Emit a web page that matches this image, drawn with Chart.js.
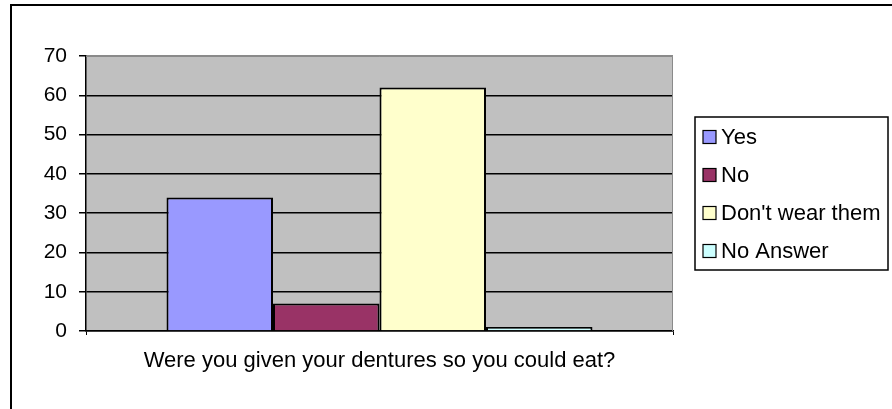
<!DOCTYPE html>
<html>
<head>
<meta charset="utf-8">
<script src="https://cdn.jsdelivr.net/npm/chart.js@4"></script>
<style>
  html, body { margin: 0; padding: 0; background: #fff; }
  #wrap { width: 892px; height: 409px; }
</style>
</head>
<body>
<div id="wrap"><canvas id="myChart" width="892" height="409"></canvas></div>
<script>
// data
var question = ['Were you given your dentures so you could eat?'];
var answers = ['Yes', 'No', "Don't wear them", 'No Answer'];
var counts = [34, 7, 62, 1];
var colours = ['#9999FF', '#993366', '#FFFFCC', '#CCFFFF'];
var yTicks = [0, 10, 20, 30, 40, 50, 60, 70];

var FONT = 'Liberation Sans, Arial, sans-serif';

// frame, grey plot area and the boxed legend
var excelLook = {
  id: 'excelLook',
  beforeDraw: function (chart) {
    var c = chart.ctx, a = chart.chartArea;
    c.save();
    c.fillStyle = '#C0C0C0';
    c.fillRect(a.left, a.top, a.right - a.left, a.bottom - a.top);
    c.strokeStyle = '#000';
    c.lineWidth = 2;
    c.beginPath();
    c.moveTo(11, 409); c.lineTo(11, 5); c.lineTo(892, 5);
    c.stroke();
    c.restore();
  },
  afterDraw: function (chart) {
    var c = chart.ctx, a = chart.chartArea;
    c.save();
    c.strokeStyle = '#8a8a8a';
    c.lineWidth = 1;
    c.beginPath();
    c.moveTo(a.left, a.top + 0.5); c.lineTo(a.right - 0.5, a.top + 0.5); c.lineTo(a.right - 0.5, a.bottom);
    c.stroke();
    // legend
    var lx = 695, ly = 117, lw = 193, lh = 153;
    c.strokeStyle = '#000';
    c.lineWidth = 1.5;
    c.strokeRect(lx, ly, lw, lh);
    c.font = '22px ' + FONT;
    c.textBaseline = 'middle';
    c.fillStyle = '#000';
    chart.data.datasets.forEach(function (ds, i) {
      var cy = 137 + i * 38;
      c.fillStyle = ds.backgroundColor;
      c.fillRect(703, cy - 6.5, 13, 13);
      c.strokeStyle = '#000';
      c.lineWidth = 1.2;
      c.strokeRect(703, cy - 6.5, 13, 13);
      c.fillStyle = '#000';
      c.fillText(ds.label, 721, cy + 1);
    });
    c.restore();
  }
};

var ctx = document.getElementById('myChart').getContext('2d');
var myChart = new Chart(ctx, {
  type: 'bar',
  data: {
    labels: question,
    datasets: answers.map(function (a, i) {
      return {
        label: a,
        data: [counts[i]],
        backgroundColor: colours[i],
        borderColor: '#000',
        borderWidth: 2,
        barPercentage: 1,
        categoryPercentage: 0.7257
      };
    })
  },
  options: {
    responsive: false,
    animation: false,
    layout: { padding: { left: 0, top: 56, right: 219, bottom: 0 } },
    plugins: { legend: { display: false }, tooltip: { enabled: false } },
    scales: {
      x: {
        grid: { offset: true, drawOnChartArea: false, tickLength: 4, color: '#000' },
        border: { color: '#000', width: 1.5 },
        ticks: { color: '#000', padding: 13, font: { family: FONT, size: 22 } },
        afterFit: function (s) { s.height = 78; }
      },
      y: {
        min: yTicks[0],
        max: yTicks[yTicks.length - 1],
        afterBuildTicks: function (s) { s.ticks = yTicks.map(function (v) { return { value: v }; }); },
        grid: {
          color: function (c) { return c.tick && c.tick.value === 70 ? '#8a8a8a' : '#000'; },
          tickColor: '#000',
          lineWidth: 1.5,
          tickLength: 7
        },
        border: { color: '#000', width: 1.5 },
        ticks: { color: '#000', padding: 12, font: { family: FONT, size: 21 } },
        afterFit: function (s) { s.width = 86; }
      }
    }
  },
  plugins: [excelLook]
});
</script>
</body>
</html>
